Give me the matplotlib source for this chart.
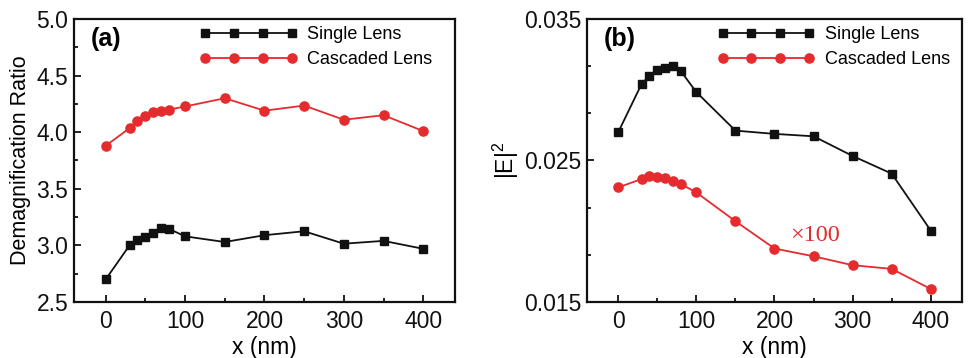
import matplotlib
matplotlib.use("Agg")
import matplotlib.pyplot as plt
from matplotlib.ticker import MultipleLocator, FixedLocator

plt.rcParams['font.family'] = ['Liberation Sans', 'DejaVu Sans']
plt.rcParams['mathtext.default'] = 'regular'

x_nm = [0, 30, 40, 50, 60, 70, 80, 100, 150, 200, 250, 300, 350, 400]

demag_single = [2.70, 3.00, 3.05, 3.07, 3.11, 3.155, 3.145, 3.08, 3.03, 3.09, 3.125, 3.015, 3.04, 2.97]
demag_cascaded = [3.88, 4.035, 4.10, 4.147, 4.18, 4.19, 4.20, 4.227, 4.30, 4.19, 4.235, 4.11, 4.15, 4.01]

e2_single = [0.0270, 0.03042, 0.03099, 0.03136, 0.03153, 0.03165, 0.03132, 0.02983,
             0.02711, 0.02688, 0.02671, 0.02532, 0.02407, 0.02005]
e2_cascaded = [0.0231, 0.02369, 0.0239, 0.02385, 0.02374, 0.02352, 0.02334, 0.02274,
               0.02071, 0.01878, 0.01823, 0.0176, 0.01734, 0.01592]

series_labels = ['Single Lens', 'Cascaded Lens']
panel_labels = ['(a)', '(b)']
xticks = [0, 100, 200, 300, 400]

BLACK = '#111111'
RED = '#e52b2d'

fig = plt.figure(figsize=(9.68, 3.58), dpi=100)
axA = fig.add_axes([0.0764, 0.1564, 0.3936, 0.7906])
axB = fig.add_axes([0.6064, 0.1564, 0.3874, 0.7906])

def style(ax):
    for s in ax.spines.values():
        s.set_linewidth(1.6)
        s.set_color('#111111')
    ax.tick_params(which='both', direction='in', width=1.3, colors='#111111',
                   labelsize=16.5, top=False, right=False)
    ax.tick_params(which='major', length=5)
    ax.tick_params(which='minor', length=3)
    ax.tick_params(axis='x', pad=6)
    ax.tick_params(axis='y', pad=4)
    ax.set_xlim(-40, 440)
    ax.set_xticks(xticks)
    ax.xaxis.set_minor_locator(MultipleLocator(50))
    ax.set_xlabel('x (nm)', fontsize=16.5, labelpad=2)

for ax, s, c, lab in [(axA, demag_single, demag_cascaded, panel_labels[0]),
                      (axB, e2_single, e2_cascaded, panel_labels[1])]:
    ax.plot(x_nm, s, '-s', color=BLACK, lw=1.3, ms=5.6, label=series_labels[0])
    ax.plot(x_nm, c, '-o', color=RED, lw=1.3, ms=6.6, label=series_labels[1])
    style(ax)
    ax.text(0.045, 0.93, lab, transform=ax.transAxes, fontsize=18,
            fontweight='bold', ha='left', va='center')

axA.set_ylim(2.5, 5.0)
axA.yaxis.set_major_locator(MultipleLocator(0.5))
axA.yaxis.set_minor_locator(MultipleLocator(0.25))
axA.set_yticklabels([f'{v:.1f}' for v in axA.get_yticks()])
axA.set_ylabel('Demagnification Ratio', fontsize=15.5, labelpad=4)

axB.set_ylim(0.015, 0.035)
axB.set_yticks([0.015, 0.025, 0.035])
axB.yaxis.set_minor_locator(FixedLocator([0.015 + i * 0.01 / 3 for i in range(7)]))
axB.set_yticklabels(['0.015', '0.025', '0.035'])
axB.set_ylabel('|E|$^2$', fontsize=16.5, labelpad=2)
axB.text(220, 0.0197, '×100', color=RED, fontsize=17.5,
         family=['Liberation Serif', 'DejaVu Serif'], ha='left', va='center')

for ax, xa in [(axA, 0.33), (axB, 0.347)]:
    ax.legend(loc='upper left', bbox_to_anchor=(xa, 0.975), frameon=False,
              numpoints=4, handlelength=5.4, handletextpad=0.55,
              fontsize=13, labelspacing=0.45, borderpad=0, borderaxespad=0)

fig.savefig('out.png', dpi=100)
